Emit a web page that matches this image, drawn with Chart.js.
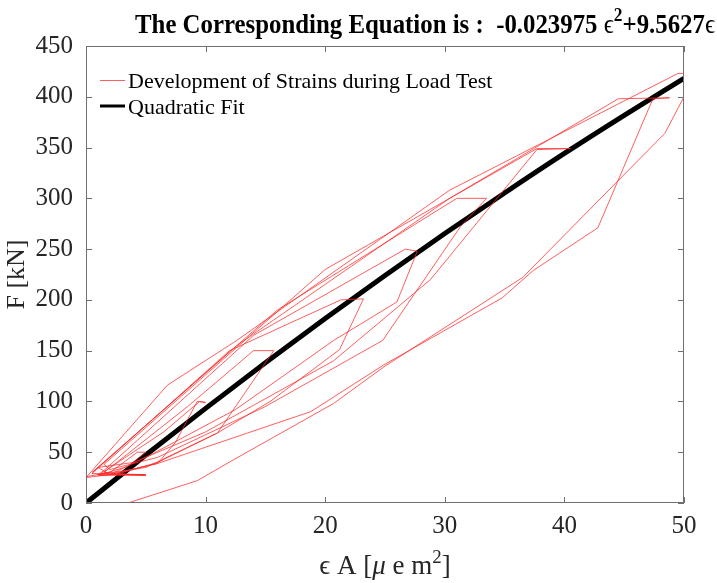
<!DOCTYPE html>
<html>
<head>
<meta charset="utf-8">
<script src="https://cdn.jsdelivr.net/npm/chart.js@4.4.0/dist/chart.umd.min.js"></script>
<style>
  html, body { margin: 0; padding: 0; background: #fff; }
  #wrap { width: 717px; height: 583px; }
</style>
</head>
<body>
<div id="wrap"><canvas id="chart" width="717" height="583" style="width:717px;height:583px"></canvas></div>
<script>
const strainX = [
  0.0, 2.0, 4.3, 5.0, 3.5, 1.2, 5.0,
  1.0, 6.5, 9.5, 10.0, 9.3, 7.5, 6.0, 2.0, 5.0,
  1.5, 8.5, 14.0, 15.7, 11.0, 6.0, 2.5, 4.8,
  0.5, 12.0, 21.3, 23.2, 21.2, 15.4, 11.0, 5.0, 1.0,
  1.5, 14.0, 26.7, 27.7, 26.0, 20.7, 12.5, 5.5, 2.0,
  1.0, 16.0, 31.0, 33.5, 31.3, 24.8, 15.0, 6.0, 2.0,
  1.5, 20.0, 37.7, 40.5, 37.7, 28.8, 20.7, 10.0, 4.0, 1.0,
  0.5, 12.6, 30.4, 44.5, 48.8, 47.4, 42.8, 37.4, 34.8, 24.9, 18.8, 6.0, 2.0,
  0.0, 6.8, 12.6, 30.4, 49.5, 50.0, 50.0, 48.4, 36.5, 24.9, 20.7, 12.4, 9.3, 3.5
];
const loadY = [
  26, 30, 50, 50, 36, 28, 28,
  27, 70, 100, 99, 100, 60, 39, 28, 27,
  30, 95, 150, 150, 69, 40, 28, 28,
  29, 150, 200, 201, 151, 100, 69, 35, 28,
  32, 165, 250, 248, 198, 160, 92, 48, 28,
  35, 190, 300, 300, 272, 160, 95, 45, 33,
  38, 230, 349, 349, 348, 220, 140, 70, 40, 35,
  30, 155, 300, 398, 399, 398, 271, 229, 202, 136, 90, 39, 28,
  25, 116, 160, 308, 423, 423, 400, 364, 222, 134, 98, 43, 22, 0
];
// quadratic fit as drawn
const fitX = [0, 5, 10, 15, 20, 25, 30, 35, 40, 45, 50];
const fitY = [0, 47.2, 93.2, 138.0, 181.7, 224.1, 265.3, 305.3, 344.2, 381.7, 418.2];

const xTicks = [0, 10, 20, 30, 40, 50];
const yTicks = [0, 50, 100, 150, 200, 250, 300, 350, 400, 450];

const serif = "'Liberation Serif', 'Times New Roman', serif";
const axisGray = '#262626';

const strainPts = strainX.map((x, i) => ({ x: x, y: loadY[i] }));
const fitPts = fitX.map((x, i) => ({ x: x, y: fitY[i] }));

// draw a string of pieces: [text, opts]
function drawPieces(ctx, pieces, x, y, size) {
  let cx = x;
  pieces.forEach(p => {
    const s = p.sup ? size * 0.7 : size;
    ctx.font = (p.italic ? 'italic ' : '') + (p.bold ? 'bold ' : '') + s + 'px ' + serif;
    ctx.fillText(p.t, cx, p.sup ? y - size * 0.42 : y);
    cx += ctx.measureText(p.t).width;
  });
  return cx - x;
}
function piecesWidth(ctx, pieces, size) {
  let w = 0;
  pieces.forEach(p => {
    const s = p.sup ? size * 0.7 : size;
    ctx.font = (p.italic ? 'italic ' : '') + (p.bold ? 'bold ' : '') + s + 'px ' + serif;
    w += ctx.measureText(p.t).width;
  });
  return w;
}

const decorPlugin = {
  id: 'decor',
  afterDraw(chart) {
    const ctx = chart.ctx;
    const a = chart.chartArea;
    const xs = chart.scales.x, ys = chart.scales.y;
    ctx.save();
    // box
    ctx.strokeStyle = '#707070';
    ctx.lineWidth = 1;
    ctx.strokeRect(a.left + 0.5, a.top + 0.5, a.right - a.left - 1, a.bottom - a.top - 1);
    // inward ticks
    ctx.beginPath();
    xTicks.forEach(v => {
      const px = Math.round(xs.getPixelForValue(v)) + 0.5;
      ctx.moveTo(px, a.bottom); ctx.lineTo(px, a.bottom - 6);
      ctx.moveTo(px, a.top); ctx.lineTo(px, a.top + 6);
    });
    yTicks.forEach(v => {
      const py = Math.round(ys.getPixelForValue(v)) + 0.5;
      ctx.moveTo(a.left, py); ctx.lineTo(a.left + 6, py);
      ctx.moveTo(a.right, py); ctx.lineTo(a.right - 6, py);
    });
    ctx.stroke();

    // legend
    ctx.lineWidth = 1;
    ctx.strokeStyle = 'rgba(255,40,40,0.75)';
    ctx.beginPath(); ctx.moveTo(100, 80.5); ctx.lineTo(125, 80.5); ctx.stroke();
    ctx.lineWidth = 3;
    ctx.strokeStyle = '#000';
    ctx.beginPath(); ctx.moveTo(100, 106); ctx.lineTo(125, 106); ctx.stroke();
    ctx.fillStyle = '#000';
    ctx.textBaseline = 'alphabetic';
    ctx.font = '22px ' + serif;
    ctx.fillText('Development of Strains during Load Test', 128, 88);
    ctx.fillText('Quadratic Fit', 128, 114);

    // title
    const title = [
      { t: 'The Corresponding Equation is :  -0.023975 ', bold: true },
      { t: 'ϵ' },
      { t: '2', bold: true, sup: true },
      { t: '+9.5627', bold: true },
      { t: 'ϵ' }
    ];
    const tSize = 28;
    const tw = piecesWidth(ctx, title, tSize);
    ctx.save();
    ctx.translate(135, 33);
    ctx.scale(580 / tw, 1);
    drawPieces(ctx, title, 0, 0, tSize);
    ctx.restore();

    // x axis title
    const xt = [
      { t: 'ϵ A [' },
      { t: 'μ', italic: true },
      { t: ' e m' },
      { t: '2', sup: true },
      { t: ']' }
    ];
    const xSize = 27;
    const xw = piecesWidth(ctx, xt, xSize);
    ctx.fillStyle = axisGray;
    drawPieces(ctx, xt, (a.left + a.right) / 2 - xw / 2, 574, xSize);
    ctx.restore();
  }
};

new Chart(document.getElementById('chart'), {
  type: 'scatter',
  data: {
    datasets: [
      {
        label: 'Development of Strains during Load Test',
        data: strainPts,
        showLine: true,
        borderColor: 'rgba(255,40,40,0.75)',
        borderWidth: 1,
        pointRadius: 0,
        tension: 0
      },
      {
        label: 'Quadratic Fit',
        data: fitPts,
        showLine: true,
        borderColor: '#000',
        borderWidth: 5,
        pointRadius: 0,
        cubicInterpolationMode: 'monotone'
      }
    ]
  },
  options: {
    responsive: false,
    animation: false,
    devicePixelRatio: 1,
    layout: { padding: { top: 46, right: 33, left: 0, bottom: 0 } },
    plugins: {
      legend: { display: false },
      tooltip: { enabled: false }
    },
    scales: {
      x: {
        type: 'linear', min: 0, max: 50,
        grid: { display: false },
        border: { display: false },
        afterFit(s) { s.height = 80; },
        afterBuildTicks(s) { s.ticks = xTicks.map(v => ({ value: v })); },
        ticks: { color: axisGray, padding: 0, font: { family: serif, size: 25 } }
      },
      y: {
        type: 'linear', min: 0, max: 450,
        grid: { display: false },
        border: { display: false },
        afterFit(s) { s.width = 86; },
        afterBuildTicks(s) { s.ticks = yTicks.map(v => ({ value: v })); },
        title: { display: true, text: 'F [kN]', color: axisGray, font: { family: serif, size: 26 }, padding: { top: 2, bottom: 0 } },
        ticks: { color: axisGray, padding: 5, font: { family: serif, size: 25 } }
      }
    }
  },
  plugins: [decorPlugin]
});
</script>
</body>
</html>
